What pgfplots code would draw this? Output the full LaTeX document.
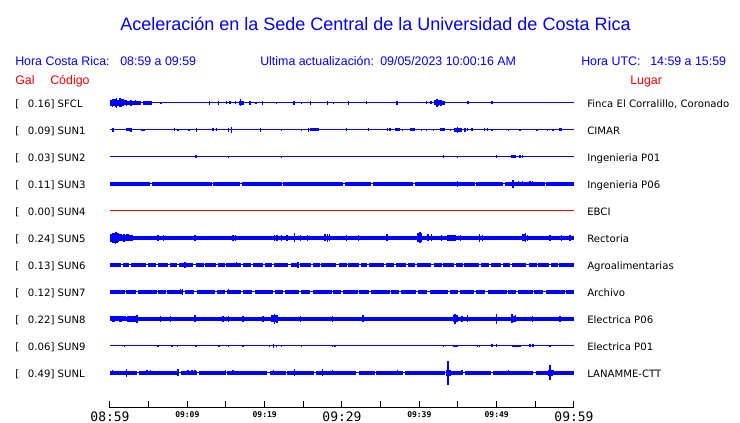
\documentclass[border=0pt]{standalone}
\usepackage{fontspec}
\setmainfont{DejaVu Sans}
\newfontfamily\lib{Liberation Sans}
\newfontfamily\mono{DejaVu Sans Mono}
\usepackage{pgfplots}
\usepackage{pgfplotstable}
\pgfplotsset{compat=1.18}
\newcommand{\bigt}[1]{{\mono\fontsize{9.75}{10}\selectfont #1}}
\newcommand{\smallt}[1]{{\mono\bfseries\fontsize{6}{7}\selectfont #1}}

% spikes: station index s, time t (min), half amplitude e (px)
\pgfplotstableread{
s t e
0 0.3 4
0 0.8 5
0 1.3 4.5
0 1.7 3.5
0 2.1 3
0 2.7 3
0 3.3 2.5
0 6.6 1.2
0 12.9 1.8
0 14.0 1.8
0 15.1 1.5
0 15.5 1.5
0 16.2 1.5
0 16.9 3.5
0 18.1 1.8
0 18.9 1.2
0 19.7 1.8
0 21.5 1.2
0 23.8 1.8
0 24.8 1.2
0 25.9 1.8
0 28.1 1.8
0 28.9 1.2
0 30.8 2
0 33.2 1.5
0 37.1 1.8
0 40.9 1.5
0 41.5 1.5
0 42.3 4.2
0 42.8 3
0 46.2 1.5
0 46.4 1.5
0 49.4 1.5
1 0.4 2
1 2.7 1.8
1 8.3 1.5
1 8.8 1
1 10.2 1.2
1 11.2 1.8
1 13.3 1.5
1 13.8 1.5
1 15.3 2
1 15.7 3
1 19.5 2.2
1 22.2 1.2
1 24.8 1.2
1 25.7 2.2
1 30.6 1.5
1 33.4 1.5
1 35.9 1.5
1 36.2 1.5
1 37.8 1.2
1 40.3 1.2
1 40.9 1.2
1 41.8 1.2
1 44.0 1.2
1 44.9 2.8
1 45.9 2
1 46.2 1.5
1 46.8 1.5
1 48.4 1.5
1 48.8 1.5
1 49.4 1.2
1 51.5 1.2
1 53.0 1.2
1 55.2 1.2
1 56.6 1.2
1 57.3 1.2
1 58.2 1.5
1 58.4 1.5
2 11.1 1.5
2 15.3 1.2
2 22.2 1.2
2 43.1 1.5
2 44.9 1.2
2 50.0 1.5
2 53.0 1.5
2 53.3 1.5
3 44.9 2.8
3 52.1 4
3 52.8 2.5
3 53.3 2.5
3 53.7 2.2
3 54.3 2.5
3 54.6 2.5
5 0.7 6
5 1.0 5
5 1.8 4
5 2.4 3.5
5 6.2 3
5 6.9 3
5 11.0 3
5 15.9 3.2
5 16.2 3
5 21.3 3
5 21.6 3
5 22.2 3
5 22.9 3
5 23.9 4.5
5 24.6 3
5 25.5 3
5 27.8 3.5
5 28.1 4
5 28.4 3.5
5 30.6 3
5 32.1 3
5 35.8 3.5
5 39.8 4.5
5 40.1 5.5
5 40.3 4
5 41.1 3.5
5 41.6 3.5
5 42.9 3
5 43.7 3.3
5 44.6 3
5 45.3 3
5 47.8 4
5 48.2 3
5 53.7 4.5
5 54.0 3
5 56.9 3
5 58.4 3
5 59.5 3
6 3.0 1.8
6 9.7 3.2
6 16.4 2.5
6 24.3 2.8
6 35.0 1.8
6 50.0 1.8
7 7.5 2
7 9.1 2.5
7 9.4 3
7 15.3 2.5
7 44.6 2
7 50.4 2
7 52.0 1.8
8 3.5 4
8 6.5 3
8 7.8 3
8 11.0 3.5
8 14.6 3
8 15.3 3
8 17.2 3
8 19.8 3
8 20.9 3.5
8 21.3 5
8 21.6 4
8 24.6 3
8 28.8 3
8 32.7 3.5
8 44.6 5
8 45.5 3
8 46.2 3.5
8 50.0 5
8 52.0 4.5
8 52.4 3.5
8 54.6 3
8 58.2 2.8
9 1.9 1.2
9 6.2 1
9 8.0 1
9 8.7 1
9 11.1 1
9 14.1 1
9 15.3 1
9 17.2 1
9 20.6 1.2
9 21.1 1.8
9 21.5 1.2
9 22.2 1
9 24.8 1
9 28.8 1.3
9 29.1 1.3
9 43.1 1.3
9 47.5 1.2
9 47.8 1.2
9 49.4 1.5
9 50.0 1.5
9 54.3 1.5
9 54.7 1.5
9 56.9 1
10 0.3 2.5
10 2.1 4
10 4.8 2.5
10 5.2 2.5
10 8.8 3.5
10 10.1 2.5
10 10.6 2.5
10 11.0 2.5
10 14.9 2.5
10 15.9 2.5
10 21.1 2.5
10 23.9 3.5
10 27.5 3.5
10 28.8 2.5
10 37.2 2.5
10 43.7 12
10 45.5 2.5
10 51.5 2.5
10 56.9 7.5
10 57.3 2.5
}\spikes

% bursts: thicker blocks
\pgfplotstableread{
s t e
0 0.15 3
0 0.45 3.5
0 0.75 4
0 1.05 3.2
0 1.35 3.6
0 1.65 2.8
0 1.85 2.5
0 2.1 2
0 2.4 2.2
0 2.7 2
0 3.0 2.2
0 3.3 2
0 3.6 1.8
0 3.8 1.8
0 4.4 1.7
0 4.7 1.7
0 5.0 1.7
0 5.3 1.7
0 16.8 2
0 17.1 2
0 42.1 2.5
0 42.4 3
0 42.7 2.5
0 43.0 2.2
0 43.2 2
1 2.2 1.5
1 2.4 1.5
1 4.2 1.3
1 4.4 1.3
1 26.0 1.5
1 26.3 1.5
1 26.6 1.5
1 26.8 1.5
1 37.0 1.5
1 37.3 1.5
1 39.0 1.5
1 39.3 1.5
1 42.8 1.5
1 43.1 1.5
1 44.7 1.8
1 45.0 1.8
1 45.3 1.8
2 52.0 1.5
2 52.3 1.5
5 0.15 4
5 0.45 5
5 0.75 5.5
5 1.05 4.5
5 1.35 3.5
5 1.65 3.2
5 1.95 3.2
5 2.25 3.5
5 2.55 3.2
5 2.85 3
5 39.9 4.5
5 40.2 4.5
5 44.0 3
5 44.3 3
5 53.5 3.5
8 0.15 2.5
8 0.45 2.8
8 0.75 2.5
8 1.05 2.5
8 1.35 2.8
8 1.65 2.5
8 1.85 2.5
8 2.4 3
8 2.7 3
8 3.0 3
8 3.3 3
8 21.1 3.5
8 21.4 3.5
8 44.5 3.5
8 44.8 3.5
8 52.0 3
8 52.3 3
9 44.5 1.3
9 44.8 1.3
9 52.1 1.3
9 52.4 1.3
9 52.7 1.3
9 53.0 1.3
10 0.15 2.3
10 0.45 2.3
10 0.75 2.3
10 1.05 2.3
10 1.35 2.3
10 1.65 2.3
10 1.85 2.3
10 43.6 3
10 43.9 3
10 56.8 3
10 57.1 3
}\bursts

\begin{document}
\begin{tikzpicture}
\begin{axis}[
  at={(0,0)}, anchor=south west,
  scale only axis, width=348pt, height=306pt,
  xmin=0, xmax=60, ymin=-408, ymax=0,
  axis x line*=bottom, axis y line=none,
  x axis line style={black, line width=0.75pt},
  xtick={0,5,...,60},
  xticklabels={\bigt{08:59},{},\smallt{09:09},{},\smallt{09:19},{},\bigt{09:29},{},\smallt{09:39},{},\smallt{09:49},{},\bigt{09:59}},
  tick align=inside, major tick length=5.5pt,
  tick style={black, line width=0.75pt},
  xticklabel style={anchor=north, inner sep=0pt, yshift=-2.5pt},
]
% baselines
\addplot[blue, line width=0.75pt] coordinates {(0,-103) (60,-103)};
\addplot[blue, line width=0.75pt] coordinates {(0,-130) (60,-130)};
\addplot[blue, line width=0.75pt] coordinates {(0,-157) (60,-157)};
\addplot[blue, line width=0.75pt] coordinates {(0,-184) (60,-184)};
\addplot[blue, line width=2.7pt, dash pattern=on 30pt off 1.2pt on 45pt off 1pt on 20pt off 1.5pt] coordinates {(0,-184) (60,-184)};
\addplot[red, line width=0.75pt] coordinates {(0,-211) (60,-211)};
\addplot[blue, line width=3.5pt] coordinates {(0,-238) (60,-238)};
\addplot[blue, line width=0.75pt] coordinates {(0,-265) (60,-265)};
\addplot[blue, line width=2.3pt, dash pattern=on 8pt off 1.5pt on 5pt off 1.2pt on 11pt off 2pt on 6pt off 1pt] coordinates {(0,-265) (60,-265)};
\addplot[blue, line width=0.75pt] coordinates {(0,-292) (60,-292)};
\addplot[blue, line width=2.3pt, dash pattern=on 11pt off 1.2pt on 7pt off 2pt on 14pt off 1pt on 6pt off 1.5pt] coordinates {(0,-292) (60,-292)};
\addplot[blue, line width=2.9pt] coordinates {(0,-319) (60,-319)};
\addplot[blue, line width=0.75pt] coordinates {(0,-346) (60,-346)};
\addplot[blue, line width=0.75pt] coordinates {(0,-373) (60,-373)};
\addplot[blue, line width=2.7pt, dash pattern=on 20pt off 1.5pt on 30pt off 2pt on 12pt off 1pt] coordinates {(0,-373) (60,-373)};
% spikes and bursts
\addplot[draw=none, mark=none, error bars/.cd, y dir=both, y explicit, error mark=none,
  error bar style={draw=blue, line width=1pt}]
  table[x=t, y expr={-103-27*\thisrow{s}}, y error=e] {\spikes};
\addplot[draw=none, mark=none, error bars/.cd, y dir=both, y explicit, error mark=none,
  error bar style={draw=blue, line width=1.9pt}]
  table[x=t, y expr={-103-27*\thisrow{s}}, y error=e] {\bursts};
\end{axis}
\begin{scope}[x=0.75pt, y=-0.75pt, xshift=-82.5pt, yshift=306pt, every node/.style={inner sep=0pt}]
\node[anchor=base, text=blue, font=\lib\fontsize{13.5}{16}\selectfont] at (375.5,31) {Aceleración en la Sede Central de la Universidad de Costa Rica};
\begin{scope}[every node/.append style={font=\lib\fontsize{9.3}{11}\selectfont}]
\node[anchor=base west, text=blue] at (15,65.5) {Hora Costa Rica:};
\node[anchor=base west, text=blue] at (120,65.5) {08:59 a 09:59};
\node[anchor=base west, text=blue] at (260,65.5) {Ultima actualización:};
\node[anchor=base west, text=blue] at (380,65.5) {09/05/2023 10:00:16 AM};
\node[anchor=base west, text=blue] at (581,65.5) {Hora UTC:};
\node[anchor=base west, text=blue] at (650,65.5) {14:59 a 15:59};
\node[anchor=base west, text=red] at (15,85) {Gal};
\node[anchor=base west, text=red] at (50,85) {Código};
\node[anchor=base west, text=red] at (630,85) {Lugar};
\end{scope}
\begin{scope}[every node/.append style={font=\fontsize{7.6}{9}\selectfont}]
\foreach \i/\g/\code/\place in {0/0.16/SFCL/{Finca El Corralillo, Coronado},1/0.09/SUN1/CIMAR,2/0.03/SUN2/Ingenieria P01,3/0.11/SUN3/Ingenieria P06,4/0.00/SUN4/EBCI,5/0.24/SUN5/Rectoria,6/0.13/SUN6/Agroalimentarias,7/0.12/SUN7/Archivo,8/0.22/SUN8/Electrica P06,9/0.06/SUN9/Electrica P01,10/0.49/SUNL/LANAMME-CTT}{
  \node[anchor=base west] at (15,{107.3+27*\i}) {[};
  \node[anchor=base west] at (27.7,{107.3+27*\i}) {\g] \code};
  \node[anchor=base west] at (587,{107.3+27*\i}) {\place};
}
\end{scope}
\pgfresetboundingbox
\path (0,0) rectangle (740,423);
\end{scope}
\end{tikzpicture}
\end{document}
